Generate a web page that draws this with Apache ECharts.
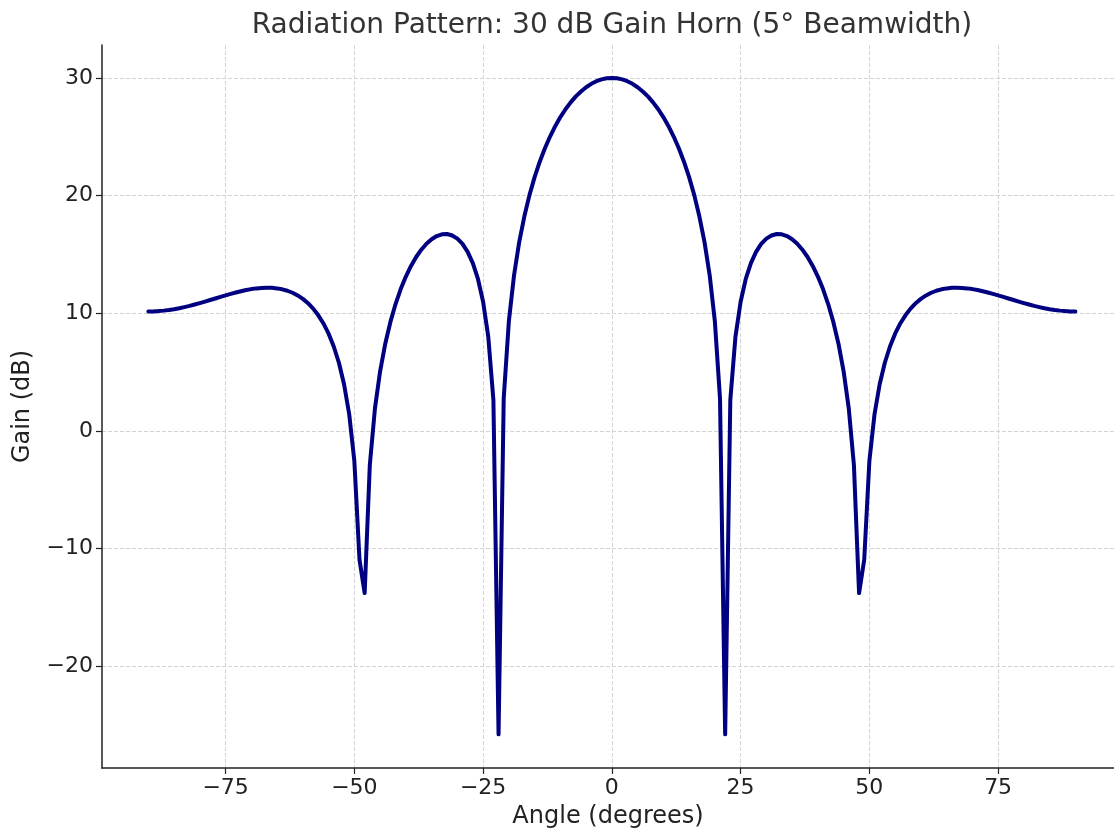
<!DOCTYPE html>
<html>
<head>
<meta charset="utf-8">
<script src="https://cdn.jsdelivr.net/npm/echarts@6/dist/echarts.min.js"></script>
<style>
html,body{margin:0;padding:0;background:#fff;}
#chart{width:1114px;height:834px;}
</style>
</head>
<body>
<div id="chart"></div>
<script>
// Angle samples (degrees)
const angles = [
-90,-89,-88,-87,-86,-85,-84,-83,-82,-81,-80,-79,-78,-77,-76,-75,-74,-73,-72,-71,
-70,-69,-68,-67,-66,-65,-64,-63,-62,-61,-60,-59,-58,-57,-56,-55,-54,-53,-52,-51,
-50,-49,-48,-47,-46,-45,-44,-43,-42,-41,-40,-39,-38,-37,-36,-35,-34,-33,-32,-31,
-30,-29,-28,-27,-26,-25,-24,-23,-22,-21,-20,-19,-18,-17,-16,-15,-14,-13,-12,-11,
-10,-9,-8,-7,-6,-5,-4,-3,-2,-1,0,1,2,3,4,5,6,7,8,9,
10,11,12,13,14,15,16,17,18,19,20,21,22,23,24,25,26,27,28,29,
30,31,32,33,34,35,36,37,38,39,40,41,42,43,44,45,46,47,48,49,
50,51,52,53,54,55,56,57,58,59,60,61,62,63,64,65,66,67,68,69,
70,71,72,73,74,75,76,77,78,79,80,81,82,83,84,85,86,87,88,89,90
];
// Gain values (dB)
const gains = [
10.15,10.15,10.18,10.22,10.27,10.34,10.42,10.52,10.62,10.74,
10.86,10.99,11.12,11.25,11.39,11.52,11.64,11.76,11.87,11.97,
12.05,12.11,12.15,12.17,12.16,12.11,12.03,11.91,11.74,11.51,
11.22,10.85,10.39,9.82,9.13,8.26,7.17,5.79,3.96,1.41,
-2.57,-10.96,-13.79,-2.91,1.91,5.06,7.41,9.26,10.78,12.05,
13.12,14.02,14.78,15.40,15.91,16.29,16.56,16.71,16.73,16.61,
16.34,15.89,15.21,14.26,12.91,10.98,8.01,2.62,-25.8,2.75,
9.31,13.21,16.02,18.22,20.04,21.57,22.88,24.02,25.02,25.90,
26.67,27.34,27.92,28.43,28.85,29.21,29.50,29.72,29.88,29.97,
30.00,
29.97,29.88,29.72,29.50,29.21,28.85,28.43,27.92,27.34,26.67,
25.90,25.02,24.02,22.88,21.57,20.04,18.22,16.02,13.21,9.31,
2.75,-25.8,2.62,8.01,10.98,12.91,14.26,15.21,15.89,16.34,
16.61,16.73,16.71,16.56,16.29,15.91,15.40,14.78,14.02,13.12,
12.05,10.78,9.26,7.41,5.06,1.91,-2.91,-13.79,-10.96,-2.57,
1.41,3.96,5.79,7.17,8.26,9.13,9.82,10.39,10.85,11.22,
11.51,11.74,11.91,12.03,12.11,12.16,12.17,12.15,12.11,12.05,
11.97,11.87,11.76,11.64,11.52,11.39,11.25,11.12,10.99,10.86,
10.74,10.62,10.52,10.42,10.34,10.27,10.22,10.18,10.15,10.15
];
const xTicks = [-75, -50, -25, 0, 25, 50, 75];
const yTicks = [-20, -10, 0, 10, 20, 30];

const titleText = 'Radiation Pattern: 30 dB Gain Horn (5° Beamwidth)';
const xName = 'Angle (degrees)';
const yName = 'Gain (dB)';

const FONT = 'DejaVu Sans';
const fmt = v => String(v).replace('-', '\u2212');

const chart = echarts.init(document.getElementById('chart'), null, {renderer: 'canvas'});
const option = {
  animation: false,
  backgroundColor: '#ffffff',
  textStyle: {fontFamily: FONT},
  title: {
    text: titleText,
    left: 607, top: 7, textAlign: 'center',
    textStyle: {fontFamily: FONT, fontSize: 28, fontWeight: 'normal', color: '#333333'}
  },
  grid: {left: 102, top: 45, right: 0, bottom: 65, containLabel: false},
  xAxis: {
    type: 'value', min: -99, max: 97.5,
    name: xName, nameLocation: 'middle', nameGap: 37,
    nameTextStyle: {fontFamily: FONT, fontSize: 24, color: '#222222'},
    axisLine: {show: true, onZero: false, lineStyle: {color: '#222222', width: 1.5}},
    axisTick: {show: true, inside: false, length: 6, customValues: xTicks, lineStyle: {color: '#222222', width: 1.2}},
    axisLabel: {customValues: xTicks, formatter: fmt, margin: 9, fontFamily: FONT, fontSize: 22, color: '#222222'},
    splitLine: {show: true, lineStyle: {color: '#cfcfcf', type: [4, 2], width: 0.9}}
  },
  yAxis: {
    type: 'value', min: -28.66, max: 32.8,
    name: yName, nameLocation: 'middle', nameGap: 67, nameRotate: 90,
    nameTextStyle: {fontFamily: FONT, fontSize: 24, color: '#222222'},
    axisLine: {show: true, onZero: false, lineStyle: {color: '#222222', width: 1.5}},
    axisTick: {show: true, inside: false, length: 6, customValues: yTicks, lineStyle: {color: '#222222', width: 1.2}},
    axisLabel: {customValues: yTicks, formatter: fmt, margin: 9, fontFamily: FONT, fontSize: 22, color: '#222222'},
    splitLine: {show: true, lineStyle: {color: '#cfcfcf', type: [4, 2], width: 0.9}}
  },
  series: [{
    type: 'line',
    data: angles.map((a, i) => [a, gains[i]]),
    showSymbol: false,
    smooth: false,
    clip: true,
    lineStyle: {color: '#000080', width: 4, join: 'round', cap: 'round'},
    itemStyle: {color: '#000080'}
  }]
};
chart.setOption(option);
</script>
</body>
</html>
